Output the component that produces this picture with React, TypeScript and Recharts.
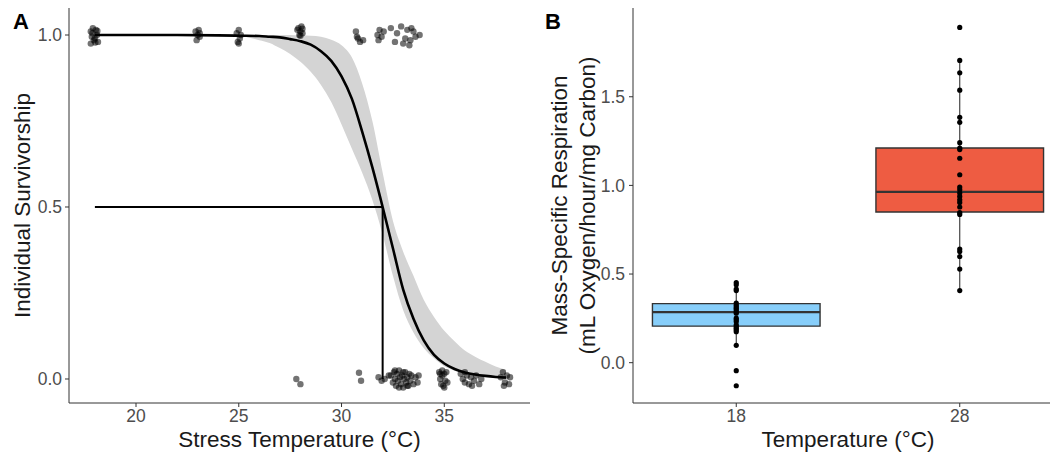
import React from 'react'
import { ComposedChart, Line, Area, Scatter, XAxis, YAxis, ReferenceLine, ReferenceArea } from 'recharts'

const FONT = '"Liberation Sans", Arial, Helvetica, sans-serif'

// Panel A - fitted survivorship curve and its confidence band
const curveTemp = [18, 20, 22, 24, 25, 26, 26.5, 27, 27.5, 28, 28.5, 29, 29.5, 30, 30.5, 31, 31.5, 32, 32.5, 33, 33.5, 34, 34.5, 35, 35.5, 36, 36.5, 37, 37.5, 38]
const curveFit = [1, 1, 1, 0.999, 0.998, 0.997, 0.995, 0.993, 0.988, 0.982, 0.972, 0.953, 0.925, 0.88, 0.815, 0.72, 0.615, 0.5, 0.38, 0.26, 0.175, 0.112, 0.07, 0.045, 0.029, 0.019, 0.013, 0.009, 0.006, 0.004]
const curveLo = [1, 1, 1, 1, 0.997, 0.985, 0.977, 0.962, 0.945, 0.922, 0.893, 0.855, 0.805, 0.74, 0.67, 0.6, 0.52, 0.42, 0.3, 0.2, 0.135, 0.09, 0.06, 0.037, 0.024, 0.015, 0.01, 0.006, 0.004, 0.002]
const curveHi = [1, 1, 1, 1, 1, 1, 1, 1, 1, 0.999, 0.998, 0.995, 0.986, 0.97, 0.935, 0.86, 0.75, 0.6, 0.46, 0.37, 0.3, 0.23, 0.18, 0.14, 0.11, 0.083, 0.065, 0.05, 0.036, 0.027]

// LT50
const lt50Temp = 32
const lt50Start = 18

// jittered individuals: [temperature, survived]
const aliveRaw = [
  [17.8, 1.01], [17.9, 1.02], [18.05, 1.015], [18.1, 1.0], [17.85, 0.995], [17.95, 0.985], [18.15, 0.98], [17.8, 0.975],
  [18.0, 0.99], [18.12, 1.012], [17.88, 1.005], [18.02, 0.978],
  [22.9, 1.01], [23.0, 1.0], [23.1, 0.995], [22.95, 0.985], [23.05, 1.015], [23.1, 1.005],
  [24.9, 1.005], [25.0, 1.015], [25.05, 0.99], [24.95, 0.98], [25.1, 1.0], [25.0, 0.975],
  [27.9, 1.02], [28.0, 1.01], [28.05, 1.025], [27.95, 1.0], [28.1, 1.005], [27.85, 1.015], [28.0, 0.998], [28.1, 1.018],
  [30.7, 1.01], [30.8, 0.99], [30.9, 0.98], [31.05, 0.985], [30.75, 0.995],
  [31.75, 1.0], [31.85, 1.015], [31.95, 0.995], [32.05, 1.01], [31.8, 0.985],
  [32.4, 1.02], [32.6, 0.98], [32.7, 1.005], [32.9, 1.025], [33.0, 0.975], [33.1, 0.99], [33.2, 1.015],
  [33.3, 0.97], [33.35, 0.985], [33.5, 1.01], [33.6, 0.995], [33.8, 1.0], [33.4, 1.02],
]
const deadRaw = [
  [27.8, 0.0], [28.0, -0.015],
  [30.85, 0.018], [30.95, -0.005],
  [31.8, 0.005], [31.95, -0.005], [32.1, 0.0], [32.3, 0.01],
  [32.4, 0.01], [32.5, -0.01], [32.55, 0.02], [32.6, 0.0], [32.65, -0.02], [32.7, 0.015], [32.75, -0.005], [32.8, 0.025],
  [32.85, 0.005], [32.9, -0.015], [32.95, 0.01], [33.0, -0.025], [33.05, 0.0], [33.1, 0.02], [33.15, -0.01], [33.2, 0.005],
  [33.25, -0.02], [33.3, 0.015], [33.35, -0.005], [33.4, 0.01], [33.5, -0.015], [33.6, 0.005], [33.7, -0.01], [33.75, 0.01],
  [32.6, 0.025], [32.8, -0.025], [33.0, 0.02], [33.2, -0.02],
  [34.75, 0.02], [34.8, 0.0], [34.85, -0.015], [34.9, 0.01], [34.95, -0.02], [35.0, 0.015], [35.05, -0.005], [35.1, 0.02],
  [35.15, -0.01], [34.9, 0.025], [35.0, -0.025], [34.8, 0.015],
  [35.8, 0.015], [35.9, 0.0], [36.0, -0.01], [36.1, 0.01], [36.2, -0.015], [36.3, 0.005], [36.45, -0.005], [36.55, 0.01],
  [36.7, -0.015], [36.8, 0.0], [36.0, 0.02], [36.35, -0.02],
  [37.75, 0.005], [37.85, 0.02], [37.95, -0.01], [38.05, 0.01], [38.15, -0.015], [38.2, 0.005], [37.9, -0.02],
]
const tempTicks = [20, 25, 30, 35]
const survTicks = [0, 0.5, 1]

// Panel B - respiration by temperature
const groupLabels = ['18', '28']
const groupPos = [1, 2]
const groupFill = ['#87CEFA', '#EE5C42']
const boxQ1 = [0.206, 0.85]
const boxMed = [0.285, 0.963]
const boxQ3 = [0.333, 1.211]
const whiskLo = [0.098, 0.407]
const whiskHi = [0.452, 1.705]
const resp18 = [0.452, 0.44, 0.415, 0.407, 0.336, 0.325, 0.316, 0.307, 0.298, 0.288, 0.279, 0.251, 0.242, 0.232, 0.213,
  0.203, 0.194, 0.185, 0.175, 0.098, -0.045, -0.13]
const resp28 = [1.891, 1.705, 1.635, 1.537, 1.384, 1.356, 1.241, 1.211, 1.202, 1.153, 1.06, 0.991, 0.976, 0.957, 0.938,
  0.919, 0.904, 0.878, 0.847, 0.836, 0.641, 0.627, 0.599, 0.528, 0.407]
const respTicks = [0, 0.5, 1, 1.5]

const curve = curveTemp.map((t, i) => ({ t, fit: curveFit[i], band: [curveLo[i], curveHi[i]] }))
const ptsA = [...aliveRaw, ...deadRaw].map(([t, p]) => ({ t, p }))
const ptsB = [
  ...resp18.map(y => ({ x: groupPos[0], y })),
  ...resp28.map(y => ({ x: groupPos[1], y })),
]

const axisCol = '#333333'
const tickStyle = { fill: '#4d4d4d', fontSize: 17.5, fontFamily: FONT }
const titleStyle = { fill: '#1a1a1a', fontSize: 22.5, fontFamily: FONT }

const xTitle = (text: string) => (props: any) => {
  const vb = props.viewBox
  return <text x={vb.x + vb.width / 2} y={vb.y + 44} textAnchor="middle" {...titleStyle}>{text}</text>
}

const yTitle = (lines: string[], xs: number[]) => (props: any) => {
  const vb = props.viewBox
  const cy = vb.y + vb.height / 2
  return (
    <g>
      {lines.map((l, i) => (
        <text key={i} x={vb.x + xs[i]} y={cy} textAnchor="middle" dominantBaseline="central"
          transform={`rotate(-90, ${vb.x + xs[i]}, ${cy})`} {...titleStyle}>{l}</text>
      ))}
    </g>
  )
}

const greyDot = (p: any) => <circle cx={p.cx} cy={p.cy} r={3.2} fill="#000" fillOpacity={0.55} />
const blackDot = (p: any) => <circle cx={p.cx} cy={p.cy} r={2.6} fill="#000" />

const BOX_HALF = 0.375

export default function App() {
  return (
    <div style={{ position: 'absolute', left: 0, top: 0, width: 1050, height: 453, overflow: 'hidden', background: '#fff', fontFamily: FONT }}>
      <div style={{ position: 'absolute', left: 13, top: 9, fontSize: 22, fontWeight: 700 }}>A</div>
      <div style={{ position: 'absolute', left: 545, top: 9, fontSize: 22, fontWeight: 700 }}>B</div>

      <div style={{ position: 'absolute', left: 0, top: 0 }}>
        <ComposedChart width={540} height={453} margin={{ top: 8, right: 10, bottom: 0, left: 0 }}>
          <XAxis type="number" dataKey="t" domain={[16.74, 39.17]} ticks={tempTicks} allowDataOverflow height={50}
            tickSize={4} tickMargin={3} tick={tickStyle} stroke={axisCol} tickLine={{ stroke: axisCol }}
            label={{ content: xTitle('Stress Temperature (°C)') }} />
          <YAxis type="number" domain={[-0.0698, 1.0785]} ticks={survTicks} allowDataOverflow width={69}
            tickFormatter={(v: number) => v.toFixed(1)} tickSize={4} tickMargin={3} tick={tickStyle}
            stroke={axisCol} tickLine={{ stroke: axisCol }}
            label={{ content: yTitle(['Individual Survivorship'], [22]) }} />
          <Area data={curve} dataKey="band" type="monotone" stroke="none" fill="#d4d4d4" fillOpacity={1}
            isAnimationActive={false} />
          <ReferenceLine segment={[{ x: lt50Start, y: 0.5 }, { x: lt50Temp, y: 0.5 }]} stroke="#000" strokeWidth={2} />
          <ReferenceLine segment={[{ x: lt50Temp, y: 0.5 }, { x: lt50Temp, y: 0 }]} stroke="#000" strokeWidth={2} />
          <Line data={curve} dataKey="fit" type="monotone" stroke="#000" strokeWidth={2.6} dot={false}
            isAnimationActive={false} />
          <Scatter data={ptsA} dataKey="p" shape={greyDot} isAnimationActive={false} />
        </ComposedChart>
      </div>

      <div style={{ position: 'absolute', left: 540, top: 0 }}>
        <ComposedChart width={523} height={453} margin={{ top: 8, right: 0, bottom: 0, left: 0 }}>
          <XAxis type="number" dataKey="x" domain={[0.538, 2.462]} ticks={groupPos} allowDataOverflow height={50}
            tickFormatter={(v: number) => groupLabels[groupPos.indexOf(v)]}
            tickSize={4} tickMargin={3} tick={tickStyle} stroke={axisCol} tickLine={{ stroke: axisCol }}
            label={{ content: xTitle('Temperature (°C)') }} />
          <YAxis type="number" domain={[-0.2274, 2.0006]} ticks={respTicks} allowDataOverflow width={93}
            tickFormatter={(v: number) => v.toFixed(1)} tickSize={4} tickMargin={4} tick={tickStyle}
            stroke={axisCol} tickLine={{ stroke: axisCol }}
            label={{ content: yTitle(['Mass-Specific Respiration', '(mL Oxygen/hour/mg Carbon)'], [19, 47]) }} />
          {groupPos.map((g, i) => (
            <ReferenceLine key={'wl' + i} segment={[{ x: g, y: whiskLo[i] }, { x: g, y: boxQ1[i] }]} stroke={axisCol} strokeWidth={1.1} />
          ))}
          {groupPos.map((g, i) => (
            <ReferenceLine key={'wh' + i} segment={[{ x: g, y: boxQ3[i] }, { x: g, y: whiskHi[i] }]} stroke={axisCol} strokeWidth={1.1} />
          ))}
          {groupPos.map((g, i) => (
            <ReferenceArea key={'b' + i} x1={g - BOX_HALF} x2={g + BOX_HALF} y1={boxQ1[i]} y2={boxQ3[i]}
              fill={groupFill[i]} fillOpacity={1} stroke={axisCol} strokeWidth={1.4} ifOverflow="visible" />
          ))}
          {groupPos.map((g, i) => (
            <ReferenceLine key={'m' + i} segment={[{ x: g - BOX_HALF, y: boxMed[i] }, { x: g + BOX_HALF, y: boxMed[i] }]}
              stroke={axisCol} strokeWidth={2.2} ifOverflow="visible" />
          ))}
          <Scatter data={ptsB} dataKey="y" shape={blackDot} isAnimationActive={false} />
        </ComposedChart>
      </div>
    </div>
  )
}
